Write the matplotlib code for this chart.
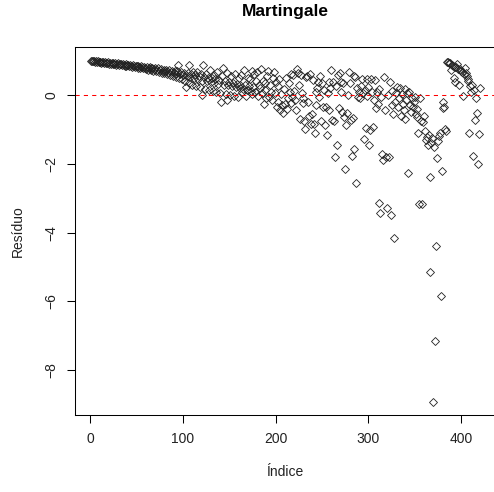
import numpy as np
import matplotlib
matplotlib.use("Agg")
import matplotlib.pyplot as plt

plt.rcParams['font.family'] = ['Liberation Sans', 'DejaVu Sans']

# resíduos martingale (índice 1..420)
res_001_100 = [
    1.00, 0.99, 1.00, 0.98, 0.97, 0.99, 0.96, 0.98, 0.95, 0.97,
    0.96, 0.94, 0.97, 0.95, 0.93, 0.96, 0.92, 0.94, 0.95, 0.91,
    0.93, 0.90, 0.94, 0.92, 0.89, 0.91, 0.93, 0.88, 0.90, 0.92,
    0.87, 0.91, 0.89, 0.86, 0.90, 0.88, 0.85, 0.89, 0.84, 0.87,
    0.86, 0.83, 0.88, 0.85, 0.82, 0.86, 0.84, 0.80, 0.85, 0.83,
    0.79, 0.84, 0.81, 0.78, 0.83, 0.80, 0.77, 0.82, 0.79, 0.76,
    0.81, 0.74, 0.78, 0.80, 0.72, 0.77, 0.79, 0.70, 0.75, 0.78,
    0.69, 0.74, 0.77, 0.67, 0.72, 0.76, 0.65, 0.71, 0.74, 0.63,
    0.70, 0.73, 0.60, 0.68, 0.72, 0.57, 0.66, 0.70, 0.55, 0.64,
    0.71, 0.52, 0.62, 0.69, 0.87, 0.50, 0.60, 0.66, 0.45, 0.58,
]
res_101_200 = [
    0.65, 0.40, 0.24, 0.56, 0.63, 0.35, 0.87, 0.52, 0.61, 0.30,
    0.68, 0.48, 0.58, 0.27, 0.66, 0.45, 0.55, 0.22, 0.62, 0.42,
    0.00, 0.87, 0.53, 0.18, 0.60, 0.40, 0.50, 0.15, 0.72, 0.38,
    0.48, 0.12, 0.58, 0.35, 0.45, 0.08, 0.66, 0.32, 0.43, 0.05,
    -0.19, 0.56, 0.79, 0.30, 0.40, 0.03, 0.64, -0.14, 0.28, 0.38,
    0.00, 0.55, 0.25, 0.35, -0.02, 0.62, 0.22, 0.32, -0.05, 0.50,
    0.20, 0.30, 0.58, 0.08, 0.18, 0.73, 0.28, -0.04, 0.15, 0.48,
    0.25, 0.45, 0.12, 0.71, 0.02, 0.22, 0.60, 0.10, 0.40, 0.66,
    -0.02, 0.30, 0.20, 0.75, 0.07, 0.42, -0.26, 0.35, 0.15, -0.08,
    0.55, 0.71, -0.05, 0.30, 0.10, -0.15, 0.48, 0.66, 0.05, 0.38,
]
res_201_300 = [
    -0.35, 0.25, -0.20, 0.45, -0.45, 0.02, -0.30, -0.52, 0.18, -0.25,
    0.50, -0.40, -0.10, 0.35, 0.08, -0.22, 0.62, -0.05, 0.58, 0.12,
    -0.15, -0.45, 0.76, 0.63, 0.30, -0.69, 0.58, 0.05, -0.10, -0.24,
    -0.77, -1.00, 0.53, 0.55, -0.20, -0.61, 0.60, -0.84, -0.55, 0.43,
    -0.84, -1.10, 0.10, -0.29, 0.20, 0.39, -0.05, 0.55, -0.77, 0.34,
    -0.36, 0.15, -0.87, -0.36, -1.16, 0.05, 0.39, -0.43, 0.19, 0.73,
    -0.73, 0.39, -0.77, -1.81, 0.27, -1.45, 0.58, -0.39, 0.65, 0.10,
    0.39, -0.49, 0.34, -0.63, -2.16, -0.87, -0.53, 0.00, 0.68, 0.34,
    -0.73, -1.77, -0.68, -1.57, 0.55, 0.51, -2.57, 0.20, -0.05, 0.10,
    -0.10, 0.25, 0.47, 0.05, -1.28, 0.15, -0.97, 0.47, -0.02, 0.22,
]
res_301_420 = [
    -1.45, -1.01, 0.47, 0.08, -0.92, -0.15, 0.44, -0.39, 0.10, -0.25,
    -3.13, 0.18, -3.43, -0.05, -1.71, -1.88, 0.51, -0.45, -1.81, -3.28,
    0.00, -1.79, 0.39, -3.50, -0.30, 0.12, -0.55, -4.17, -0.20, 0.05,
    0.24, -0.35, -0.10, 0.19, -0.60, 0.02, -0.25, -0.45, 0.17, -0.70,
    -0.15, 0.05, -2.26, 0.09, -0.30, -0.50, -0.10, -0.35, -0.20, -0.05,
    -0.55, -0.40, -0.65, -1.10, -3.17, -0.10, -0.75, -3.18, -0.80, -0.60,
    -1.05, -1.30, -1.21, -1.45, -1.16, -5.16, -2.37, -1.40, -1.25, -8.93,
    -1.50, -7.15, -4.40, -1.84, -1.35, -1.20, -1.10, -5.85, -2.20, -0.19,
    -0.39, -0.35, -1.00, -1.05, 0.97, 0.95, 0.92, 0.94, 0.73, 0.88,
    0.85, 0.49, 0.82, 0.39, 0.80, 0.90, 0.76, 0.29, 0.75, 0.70,
    0.68, -0.03, 0.60, 0.78, 0.63, 0.55, 0.46, 0.40, -1.11, 0.26,
    0.10, 0.30, -1.76, 0.15, -0.73, -0.10, -0.51, -2.00, -1.14, 0.20,
]

x_ticks = [0, 100, 200, 300, 400]
y_ticks = [0, -2, -4, -6, -8]

residuos = np.array(res_001_100 + res_101_200 + res_201_300 + res_301_420)
indice = np.arange(1, len(residuos) + 1)

fig = plt.figure(figsize=(4.94, 4.92), dpi=100)
ax = fig.add_axes([0.1518, 0.1555, 0.850, 0.749])

ax.plot(indice, residuos, linestyle='none', marker='D', markersize=3.6,
        markerfacecolor='none', markeredgecolor='#222222', markeredgewidth=0.6)
ax.axhline(0, color='red', linestyle=(0, (4, 4)), linewidth=0.75)

ax.set_xlim(-16.5, 436.5)
ax.set_ylim(-9.317, 1.395)
ax.set_xticks(x_ticks)
ax.set_yticks(y_ticks)
ax.tick_params(direction='out', length=5.8, width=0.75, labelsize=10, pad=6,
               labelcolor='#222222')
plt.setp(ax.get_yticklabels(), rotation=90, va='center')
for s in ax.spines.values():
    s.set_linewidth(0.75)

ax.set_title('Martingale', fontsize=12.5, fontweight='bold', pad=22)
ax.set_xlabel('Índice', fontsize=10, labelpad=14, color='#222222')
ax.set_ylabel('Resíduo', fontsize=10, labelpad=14, color='#222222')

fig.savefig('out.png', dpi=100)
